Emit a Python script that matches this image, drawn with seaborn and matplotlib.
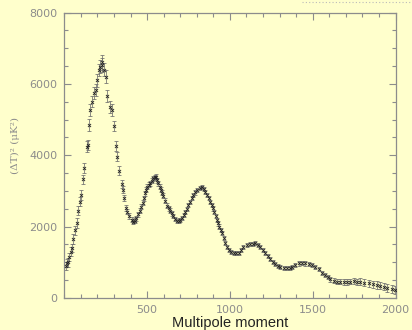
import matplotlib
matplotlib.use("Agg")
import matplotlib.pyplot as plt
from matplotlib.lines import Line2D
from matplotlib.ticker import MultipleLocator
import seaborn as sns
import pandas as pd

ell = [
    8, 15, 22, 30, 38, 45, 55, 65, 75, 85,
    95, 101, 111, 121, 135, 145, 151, 155, 170, 181,
    192, 200, 210, 218, 225, 230, 240, 252, 260, 275,
    286, 302, 312, 320, 333, 347, 357, 361, 373, 381,
    393, 407, 417, 425, 433, 445, 458, 466, 474, 481,
    488, 495, 502, 510, 518, 528, 538, 546, 554, 561,
    568, 575, 583, 591, 599, 611, 623, 631, 639, 649,
    659, 671, 683, 691, 700, 710, 720, 730, 740, 750,
    760, 770, 780, 792, 804, 818, 831, 841, 851, 861,
    871, 881, 891, 899, 907, 914, 921, 929, 937, 944,
    951, 962, 972, 982, 992, 1007, 1022, 1037, 1052, 1067,
    1082, 1102, 1123, 1138, 1153, 1168, 1183, 1198, 1213, 1228,
    1244, 1259, 1274, 1289, 1304, 1325, 1345, 1360, 1375, 1395,
    1415, 1435, 1455, 1476, 1496, 1516, 1536, 1556, 1576, 1591,
    1606, 1627, 1647, 1667, 1687, 1707, 1727, 1747, 1768, 1788,
    1808, 1838, 1863, 1889, 1909, 1929, 1950, 1979, 1995]

power = [
    900, 980, 1000, 1150, 1300, 1400, 1650, 1900, 2100, 2450,
    2700, 2890, 3330, 3650, 4240, 4290, 4850, 5270, 5500, 5740,
    5830, 6100, 6390, 6480, 6600, 6530, 6400, 6200, 5650, 5350,
    5270, 4820, 4260, 3960, 3570, 3200, 3030, 2800, 2520, 2420,
    2300, 2190, 2140, 2160, 2235, 2350, 2450, 2560, 2670, 2800,
    2935, 3030, 3120, 3170, 3215, 3290, 3355, 3380, 3400, 3300,
    3215, 3120, 3030, 2950, 2860, 2720, 2580, 2510, 2450, 2370,
    2300, 2220, 2160, 2170, 2190, 2250, 2330, 2410, 2490, 2600,
    2700, 2800, 2890, 2960, 3030, 3080, 3120, 3060, 2980, 2890,
    2800, 2700, 2610, 2510, 2420, 2300, 2190, 2090, 2000, 1900,
    1810, 1670, 1530, 1440, 1345, 1290, 1250, 1255, 1270, 1350,
    1440, 1480, 1515, 1525, 1530, 1490, 1440, 1350, 1250, 1170,
    1085, 1010, 945, 900, 860, 840, 830, 850, 880, 930,
    970, 975, 970, 950, 925, 870, 805, 710, 645, 580,
    525, 480, 460, 450, 440, 455, 460, 470, 450, 460,
    430, 410, 390, 365, 340, 315, 280, 245, 220]

err = [
    120, 120, 120, 120, 120, 120, 130, 130, 130, 130,
    130, 130, 130, 140, 150, 150, 160, 160, 160, 170,
    170, 180, 180, 180, 200, 200, 180, 180, 170, 160,
    160, 150, 140, 130, 120, 110, 100, 90, 90, 80,
    80, 70, 70, 70, 70, 70, 70, 70, 70, 70,
    70, 70, 70, 70, 70, 70, 70, 70, 70, 70,
    70, 70, 70, 70, 70, 70, 70, 70, 70, 70,
    60, 60, 60, 60, 60, 60, 60, 60, 60, 60,
    60, 60, 60, 60, 60, 60, 60, 60, 60, 60,
    60, 60, 60, 60, 60, 60, 60, 60, 60, 60,
    55, 55, 55, 55, 55, 55, 55, 55, 55, 55,
    55, 55, 55, 55, 55, 55, 55, 55, 55, 55,
    55, 55, 55, 55, 55, 55, 55, 55, 55, 55,
    60, 60, 60, 60, 60, 60, 60, 60, 60, 60,
    70, 70, 70, 70, 80, 80, 80, 80, 90, 90,
    90, 90, 100, 100, 100, 100, 110, 110, 110]

x_ticks = [500, 1000, 1500, 2000]
y_ticks = [0, 2000, 4000, 6000, 8000]

BG = "#ffffcc"
GRAY = "#8c8c8c"

sns.set_theme(style="ticks")
plt.rcParams["font.family"] = ["DejaVu Sans"]

fig = plt.figure(figsize=(4.12, 3.30), dpi=100, facecolor=BG)
ax = fig.add_axes([0.156, 0.097, 0.804, 0.865])
ax.set_facecolor(BG)

df = pd.DataFrame({"ell": ell, "power": power, "err": err})
ax.errorbar(df["ell"], df["power"], yerr=df["err"], fmt="none",
            ecolor="#6e6e6e", elinewidth=0.55, capsize=1.4, capthick=0.55, zorder=2)
sns.scatterplot(data=df, x="ell", y="power", marker="x", s=5, color="#222222",
                linewidth=0.6, ax=ax, zorder=3, legend=False)

ax.set_xlim(0, 2000)
ax.set_ylim(0, 8000)
ax.set_xticks(x_ticks)
ax.set_yticks(y_ticks)
ax.xaxis.set_minor_locator(MultipleLocator(100))
ax.yaxis.set_minor_locator(MultipleLocator(500))
ax.tick_params(which="both", direction="in", top=True, right=True,
               color=GRAY, width=0.8, labelcolor=GRAY, labelsize=8)
ax.tick_params(which="major", length=5, pad=5)
ax.tick_params(which="minor", length=3)
for s in ax.spines.values():
    s.set_color(GRAY)
    s.set_linewidth(0.9)

ax.set_xlabel("Multipole moment", fontsize=10.5, color="#222222",
              family="Liberation Sans", labelpad=1)
ax.set_ylabel("")
fig.text(15 / 412, 1 - 145 / 330, "(ΔT)² (μK²)", rotation=90, ha="center",
         va="center", fontsize=7.5, color=GRAY, family="DejaVu Serif")

fig.add_artist(Line2D([302 / 412, 410 / 412], [1 - 1.5 / 330, 1 - 1.5 / 330],
                      transform=fig.transFigure, color="#bbbbbb", lw=0.8,
                      linestyle=(0, (1, 2))))

fig.savefig("out.png", dpi=100, facecolor=BG)
